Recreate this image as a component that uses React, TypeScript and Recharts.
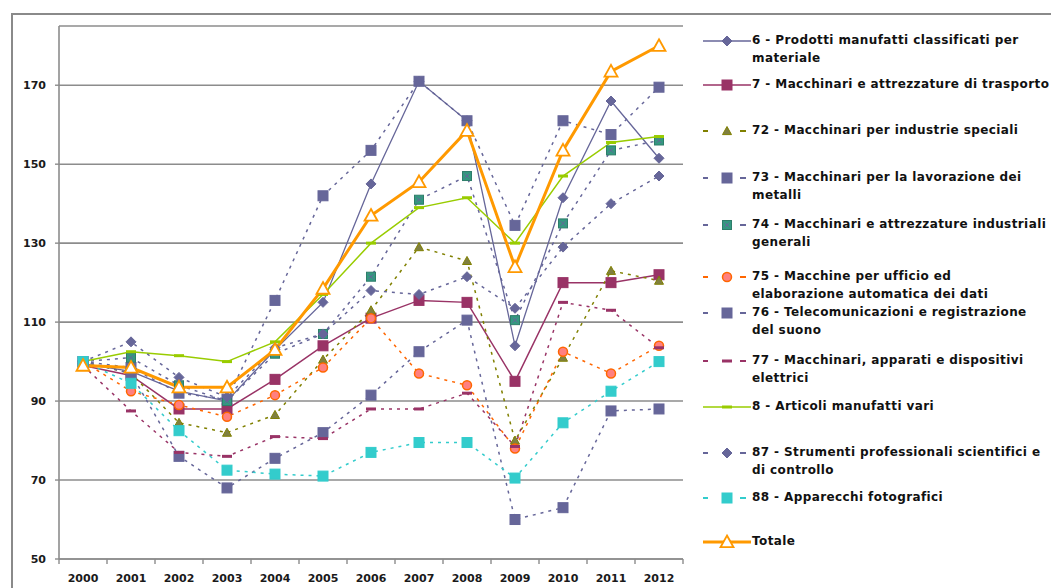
import { CartesianGrid, Line, LineChart, XAxis, YAxis } from "recharts";

const YEARS = ["2000", "2001", "2002", "2003", "2004", "2005", "2006", "2007", "2008", "2009", "2010", "2011", "2012"];
const Y_TICKS = [50, 70, 90, 110, 130, 150, 170];

const S6 = [99.5, 97.5, 92.5, 90, 103, 115, 145, 171, 161, 104, 141.5, 166, 151.5];
const S7 = [99, 96.5, 88, 88, 95.5, 104, 111, 115.5, 115, 95, 120, 120, 122];
const S72 = [100, 97, 84.5, 82, 86.5, 100.5, 113, 129, 125.5, 80, 101, 123, 120.5];
const S73 = [100, 98.5, 92, 90.5, 115.5, 142, 153.5, 171, 161, 134.5, 161, 157.5, 169.5];
const S74 = [100, 101, 94, 90, 102, 107, 121.5, 141, 147, 110.5, 135, 153.5, 156];
const S75 = [100, 92.5, 89, 86, 91.5, 98.5, 111, 97, 94, 78, 102.5, 97, 104];
const S76 = [100, 97, 76, 68, 75.5, 82, 91.5, 102.5, 110.5, 60, 63, 87.5, 88];
const S77 = [99, 87.5, 77, 76, 81, 80.5, 88, 88, 92, 78.5, 115, 113, 103.5];
const S8 = [100, 102.5, 101.5, 100, 105, 117, 130, 139, 141.5, 130, 147, 155.5, 157];
const S87 = [100, 105, 96, 91, 103.5, 107, 118, 117, 121.5, 113.5, 129, 140, 147];
const S88 = [100, 94.5, 82.5, 72.5, 71.5, 71, 77, 79.5, 79.5, 70.5, 84.5, 92.5, 100];
const TOTALE = [99, 98.5, 93.5, 93.5, 103, 118.5, 137, 145.5, 158.5, 124, 153.5, 173.5, 180];

type Shape = "diamond" | "square" | "triangle" | "circle" | "dash";
type MarkerStyle = { shape: Shape; size: number; fill: string; stroke: string; sw?: number; cross?: string };

const PURPLE = "#666699";
const MAROON = "#993366";

const SERIES = [
  { key: "s6", name: "6 - Prodotti manufatti classificati per\nmateriale", values: S6, color: PURPLE, dashed: false, width: 1.3, marker: { shape: "diamond", size: 10, fill: PURPLE, stroke: PURPLE } },
  { key: "s7", name: "7 - Macchinari e attrezzature di trasporto", values: S7, color: MAROON, dashed: false, width: 1.5, marker: { shape: "square", size: 10, fill: MAROON, stroke: MAROON } },
  { key: "s72", name: "72 - Macchinari per industrie speciali", values: S72, color: "#808000", dashed: true, width: 1.5, marker: { shape: "triangle", size: 9, fill: "#808040", stroke: "#808000" } },
  { key: "s73", name: "73 - Macchinari per la lavorazione dei\nmetalli", values: S73, color: PURPLE, dashed: true, width: 1.5, marker: { shape: "square", size: 10, fill: PURPLE, stroke: PURPLE } },
  { key: "s74", name: "74 - Macchinari e attrezzature industriali\ngenerali", values: S74, color: PURPLE, dashed: true, width: 1.5, marker: { shape: "square", size: 9, fill: "#339980", stroke: "#2E7D6A", cross: "#666699" } },
  { key: "s75", name: "75 - Macchine per ufficio ed\nelaborazione automatica dei dati", values: S75, color: "#FF6600", dashed: true, width: 1.5, marker: { shape: "circle", size: 9, fill: "#FF8080", stroke: "#FF6600", sw: 1.5 } },
  { key: "s76", name: "76 - Telecomunicazioni e registrazione\ndel suono", values: S76, color: PURPLE, dashed: true, width: 1.5, marker: { shape: "square", size: 10, fill: PURPLE, stroke: PURPLE } },
  { key: "s77", name: "77 - Macchinari, apparati e dispositivi\nelettrici", values: S77, color: MAROON, dashed: true, width: 1.5, marker: { shape: "dash", size: 10, fill: MAROON, stroke: MAROON } },
  { key: "s8", name: "8 - Articoli manufatti vari", values: S8, color: "#99CC00", dashed: false, width: 1.5, marker: { shape: "dash", size: 10, fill: "#99CC00", stroke: "#99CC00" } },
  { key: "s87", name: "87 - Strumenti professionali scientifici e\ndi controllo", values: S87, color: PURPLE, dashed: true, width: 1.5, marker: { shape: "diamond", size: 10, fill: PURPLE, stroke: PURPLE } },
  { key: "s88", name: "88 - Apparecchi fotografici", values: S88, color: "#33CCCC", dashed: true, width: 1.5, marker: { shape: "square", size: 10, fill: "#33CCCC", stroke: "#33CCCC" } },
  { key: "tot", name: "Totale", values: TOTALE, color: "#FF9900", dashed: false, width: 3, marker: { shape: "triangle", size: 13, fill: "#ffffff", stroke: "#FF9900", sw: 1.8 } },
] as { key: string; name: string; values: number[]; color: string; dashed: boolean; width: number; marker: MarkerStyle }[];

// first-line centre of each legend entry, in page pixels
const LEGEND_TOPS = [41, 85, 131, 178, 225, 277, 313, 361, 407, 453, 498, 542];

const rows = YEARS.map((year, i) => {
  const row: Record<string, number | string> = { idx: i, year };
  SERIES.forEach((s) => (row[s.key] = s.values[i]));
  return row;
});

const X_TICKS = Array.from({ length: YEARS.length + 1 }, (_, i) => i - 0.5);
const HALF_STEP = 24; // half a category, so labels sit between the tick marks

const FONT = { fontFamily: "DejaVu Sans", fontWeight: 700, fontSize: 11, fill: "#1a1a1a" };

const Marker = ({ cx, cy, m }: { cx: number; cy: number; m: MarkerStyle }) => {
  if (cx == null || cy == null) return null;
  const h = m.size / 2;
  const sw = m.sw ?? 1;
  switch (m.shape) {
    case "diamond":
      return <polygon points={`${cx},${cy - h} ${cx + h},${cy} ${cx},${cy + h} ${cx - h},${cy}`} fill={m.fill} stroke={m.stroke} strokeWidth={sw} />;
    case "triangle":
      return <polygon points={`${cx},${cy - h} ${cx + h},${cy + h * 0.8} ${cx - h},${cy + h * 0.8}`} fill={m.fill} stroke={m.stroke} strokeWidth={sw} />;
    case "circle":
      return <circle cx={cx} cy={cy} r={h} fill={m.fill} stroke={m.stroke} strokeWidth={sw} />;
    case "dash":
      return <rect x={cx - h} y={cy - 1.5} width={m.size} height={3} fill={m.fill} />;
    default:
      return (
        <g>
          <rect x={cx - h} y={cy - h} width={m.size} height={m.size} fill={m.fill} stroke={m.stroke} strokeWidth={sw} />
          {m.cross && (
            <path d={`M${cx - h + 2},${cy - h + 2}L${cx + h - 2},${cy + h - 2}M${cx + h - 2},${cy - h + 2}L${cx - h + 2},${cy + h - 2}`} stroke={m.cross} strokeWidth={1} />
          )}
        </g>
      );
  }
};

const YearTick = ({ x, y, payload }: any) => {
  const i = payload.value + 0.5;
  if (i < 0 || i >= YEARS.length) return <g />;
  return (
    <text x={x + HALF_STEP} y={y} dy="0.71em" textAnchor="middle" {...FONT}>
      {YEARS[i]}
    </text>
  );
};

const LegendBox = () => (
  <div style={{ position: "absolute", left: 0, top: 0 }}>
    {SERIES.map((s, i) => {
      const top = LEGEND_TOPS[i];
      return (
        <div key={s.key}>
          <svg width={52} height={18} style={{ position: "absolute", left: 700, top: top - 9 }}>
            {s.dashed ? (
              <g stroke={s.color} strokeWidth={2}>
                <line x1={3} y1={9} x2={8} y2={9} />
                <line x1={40} y1={9} x2={46} y2={9} />
              </g>
            ) : (
              <line x1={3} y1={9} x2={51} y2={9} stroke={s.color} strokeWidth={s.width} />
            )}
            <Marker cx={27} cy={9} m={s.marker} />
          </svg>
          <div
            style={{
              position: "absolute",
              left: 752,
              top: top - 9,
              whiteSpace: "pre",
              fontFamily: "DejaVu Sans",
              fontWeight: 700,
              fontSize: 12,
              letterSpacing: 0.4,
              lineHeight: "17.5px",
              color: "#111",
            }}
          >
            {s.name}
          </div>
        </div>
      );
    })}
  </div>
);

export default function App() {
  return (
    <div style={{ position: "absolute", left: 0, top: 0, width: 1051, height: 588, overflow: "hidden", background: "#fff" }}>
      <div style={{ position: "absolute", left: 11, top: 13, width: 1100, height: 700, border: "2px solid #8a8a8a" }} />
      <LineChart width={1051} height={588} data={rows} margin={{ top: 26, right: 368, bottom: 0, left: 0 }}>
        <CartesianGrid vertical={false} stroke="#8c8c8c" strokeWidth={1.6} />
        <XAxis
          dataKey="idx"
          type="number"
          domain={[-0.5, 12.5]}
          ticks={X_TICKS}
          interval={0}
          height={29}
          tickSize={5}
          tickMargin={10}
          tick={<YearTick />}
          stroke="#8c8c8c"
          axisLine={{ stroke: "#8c8c8c", strokeWidth: 1.6 }}
          tickLine={{ stroke: "#8c8c8c", strokeWidth: 1.4 }}
        />
        <YAxis
          type="number"
          domain={[50, 185]}
          ticks={Y_TICKS}
          interval={0}
          width={59}
          tickSize={4}
          tickMargin={9}
          tick={FONT}
          axisLine={{ stroke: "#8c8c8c", strokeWidth: 1.6 }}
          tickLine={{ stroke: "#8c8c8c", strokeWidth: 1.4 }}
          allowDataOverflow
        />
        {SERIES.map((s) => (
          <Line
            key={s.key}
            dataKey={s.key}
            name={s.name}
            type="linear"
            stroke={s.color}
            strokeWidth={s.width}
            strokeDasharray={s.dashed ? "3 5" : undefined}
            dot={(p: any) => <Marker key={`${s.key}-${p.index}`} cx={p.cx} cy={p.cy} m={s.marker} />}
            activeDot={false}
            isAnimationActive={false}
          />
        ))}
      </LineChart>
      <LegendBox />
    </div>
  );
}
